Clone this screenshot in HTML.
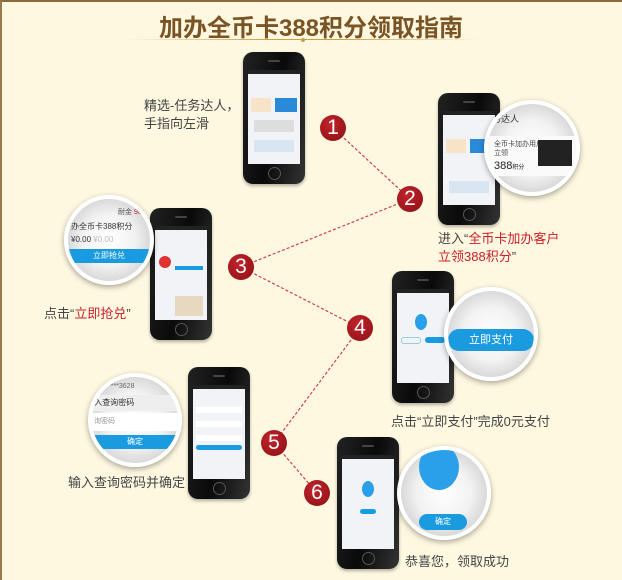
<!DOCTYPE html>
<html><head><meta charset="utf-8"><style>
body{margin:0;width:622px;height:580px;overflow:hidden;background:#fef8e1;font-family:"Liberation Sans","Noto Sans CJK SC",sans-serif;}
#w{position:absolute;left:0;top:0;width:620px;height:578px;border-top:2px solid #8a6a3e;border-left:2px solid #9a7a4a;background:#fef8e1;}
.t{position:absolute;font-size:13px;color:#444;white-space:nowrap;line-height:18px}
.r{color:#c8202a}
.ph{position:absolute;width:62px;height:132px;border-radius:10px;background:linear-gradient(100deg,#222 0%,#0a0a0a 50%,#333 100%);box-shadow:0 2px 3px rgba(0,0,0,.3)}
.ph .s{position:absolute;left:5px;top:18px;width:52px;height:94px;background:#f1f3f6;overflow:hidden}
.ph .s:before{content:"";position:absolute;left:0;top:0;width:100%;height:4px;background:#222}
.ph .h{position:absolute;left:25px;bottom:4px;width:11px;height:11px;border-radius:50%;border:1px solid #555}
.ph .sp{position:absolute;left:25px;top:8px;width:12px;height:2px;background:#444;border-radius:1px}
.mg{position:absolute;border-radius:50%;background:radial-gradient(circle at 50% 50%,#fff 0%,#f2f2f2 45%,#bdbdbd 100%);border:4px solid #fff;box-shadow:0 2px 6px rgba(0,0,0,.35);overflow:hidden}
.n{position:absolute;width:26px;height:26px;border-radius:50%;background:radial-gradient(circle at 40% 35%,#c0242a,#8c0f14);color:#fff;font-size:21px;text-align:center;line-height:26px;font-family:"Liberation Sans",sans-serif}
.btn{position:absolute;background:#1a9be0;color:#fff;font-size:11px;text-align:center}
</style></head><body><div id="w"></div>
<div style="position:absolute;left:0;top:8px;width:622px;text-align:center;font-size:24px;font-weight:bold;color:#7a5424;letter-spacing:0px">加办全币卡388积分领取指南</div>
<div style="position:absolute;left:127px;top:39px;width:353px;height:1px;background:linear-gradient(90deg,rgba(200,160,80,0),#c9a04a 40%,#c9a04a 60%,rgba(200,160,80,0))"></div>
<div style="position:absolute;left:301px;top:38px;width:4px;height:4px;background:#c9a04a;border-radius:50%"></div>

<svg style="position:absolute;left:0;top:0" width="622" height="580"><g stroke="#d0404a" stroke-width="1.2" stroke-dasharray="3,2" fill="none">
<line x1="333" y1="128" x2="410" y2="199"/><line x1="410" y1="199" x2="241" y2="267"/><line x1="241" y1="267" x2="360" y2="328"/><line x1="360" y1="328" x2="274" y2="443"/><line x1="274" y1="443" x2="317" y2="493"/></g></svg>

<div class="ph" style="left:243px;top:52px"><div class="sp"></div><div class="s"><div style="position:absolute;left:3px;top:28px;width:20px;height:14px;background:#f6e3c8"></div><div style="position:absolute;left:27px;top:28px;width:22px;height:14px;background:#2a8ad8"></div><div style="position:absolute;left:6px;top:50px;width:40px;height:12px;background:#ddd"></div><div style="position:absolute;left:6px;top:70px;width:40px;height:12px;background:#d8e6f4"></div></div><div class="h"></div></div>
<div class="t" style="left:144px;top:97px">精选-任务达人，<br>手指向左滑</div>
<div class="n" style="left:320px;top:115px">1</div>

<div class="ph" style="left:438px;top:93px"><div class="sp"></div><div class="s"><div style="position:absolute;left:3px;top:28px;width:20px;height:14px;background:#f6e3c8"></div><div style="position:absolute;left:27px;top:28px;width:22px;height:14px;background:#2a8ad8"></div><div style="position:absolute;left:6px;top:70px;width:40px;height:12px;background:#d8e6f4"></div></div><div class="h"></div></div>
<div class="mg" style="left:484px;top:100px;width:88px;height:88px"><div style="position:absolute;left:4px;top:8px;font-size:9px;color:#333">务达人</div><div style="position:absolute;left:0;top:32px;width:88px;height:40px;background:#fafafa"></div><div style="position:absolute;left:6px;top:36px;font-size:7px;color:#444;line-height:9px">全币卡加办用户<br>立领</div><div style="position:absolute;left:6px;top:56px;font-size:11px;color:#222">388<span style="font-size:6px">积分</span></div><div style="position:absolute;left:50px;top:36px;width:34px;height:26px;background:#222"></div></div>
<div class="n" style="left:397px;top:186px">2</div>
<div class="t" style="left:438px;top:230px">进入“<span class="r">全币卡加办客户</span><br><span class="r">立领388积分</span>”</div>

<div class="ph" style="left:150px;top:208px"><div class="sp"></div><div class="s"><div style="position:absolute;left:4px;top:30px;width:12px;height:12px;border-radius:50%;background:#d33"></div><div class="btn" style="left:20px;top:40px;width:28px;height:4px"></div><div style="position:absolute;left:20px;top:70px;width:28px;height:20px;background:#e8d8c0"></div></div><div class="h"></div></div>
<div class="mg" style="left:64px;top:195px;width:82px;height:82px"><div style="position:absolute;left:50px;top:8px;font-size:7px;color:#555">耐金 <span class="r">98%</span></div><div style="position:absolute;left:3px;top:22px;font-size:8px;color:#333">办全币卡388积分</div><div style="position:absolute;left:3px;top:36px;font-size:8px;color:#333">¥0.00 <span style="color:#bbb">¥0.00</span></div><div class="btn" style="left:0;top:50px;width:82px;height:14px;line-height:14px;font-size:8px">立即抢兑</div></div>
<div class="n" style="left:228px;top:254px">3</div>
<div class="t" style="left:44px;top:305px">点击“<span class="r">立即抢兑</span>”</div>

<div class="ph" style="left:392px;top:271px"><div class="sp"></div><div class="s"><div style="position:absolute;left:18px;top:25px;width:12px;height:16px;border-radius:50%;background:#2aa0ea"></div><div style="position:absolute;left:4px;top:48px;width:18px;height:5px;border:1px solid #9cd;border-radius:3px"></div><div class="btn" style="left:28px;top:48px;width:20px;height:6px;border-radius:3px"></div></div><div class="h"></div></div>
<div class="mg" style="left:444px;top:287px;width:86px;height:86px"><div class="btn" style="left:0;top:38px;width:86px;height:22px;line-height:22px;border-radius:11px">立即支付</div></div>
<div class="n" style="left:347px;top:315px">4</div>
<div class="t" style="left:391px;top:413px">点击“立即支付”完成0元支付</div>

<div class="ph" style="left:188px;top:367px"><div class="sp"></div><div class="s"><div style="position:absolute;left:3px;top:22px;width:46px;height:6px;background:#fff"></div><div style="position:absolute;left:3px;top:36px;width:46px;height:6px;background:#fff"></div><div style="position:absolute;left:3px;top:50px;width:46px;height:6px;background:#fff"></div><div class="btn" style="left:3px;top:60px;width:46px;height:5px;border-radius:3px"></div></div><div class="h"></div></div>
<div class="mg" style="left:88px;top:373px;width:86px;height:86px"><div style="position:absolute;left:16px;top:6px;font-size:7px;color:#666">****3628</div><div style="position:absolute;left:0;top:18px;width:86px;height:16px;background:#eee;font-size:8px;line-height:16px;color:#333">&nbsp;入查询密码</div><div style="position:absolute;left:0;top:36px;width:86px;height:18px;background:#fff;font-size:7px;line-height:18px;color:#999">&nbsp;询密码</div><div class="btn" style="left:0;top:58px;width:86px;height:14px;line-height:14px;font-size:8px">确定</div></div>
<div class="n" style="left:261px;top:430px">5</div>
<div class="t" style="left:68px;top:474px">输入查询密码并确定</div>

<div class="n" style="left:304px;top:480px">6</div>
<div class="ph" style="left:337px;top:437px"><div class="sp"></div><div class="s"><div style="position:absolute;left:20px;top:26px;width:12px;height:16px;border-radius:50%;background:#2aa0ea"></div><div class="btn" style="left:18px;top:54px;width:16px;height:5px;border-radius:3px"></div></div><div class="h"></div></div>
<div class="mg" style="left:397px;top:446px;width:86px;height:86px"><div style="position:absolute;left:18px;top:-6px;width:40px;height:46px;border-radius:50%;background:#2aa0ea"></div><div class="btn" style="left:18px;top:64px;width:48px;height:16px;line-height:16px;border-radius:8px;font-size:8px">确定</div></div>
<div class="t" style="left:405px;top:553px">恭喜您，领取成功</div>
</body></html>
